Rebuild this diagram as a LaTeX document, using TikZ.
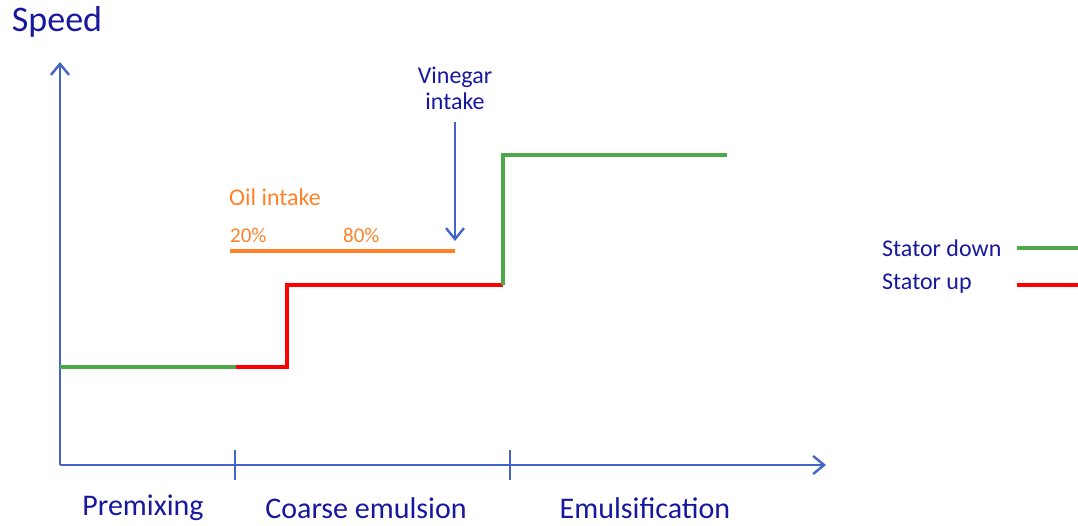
\documentclass[tikz,border=0pt]{standalone}
\usepackage{fontspec}
\setmainfont{Carlito}
\usetikzlibrary{arrows.meta}

\definecolor{txtblue}{RGB}{24,24,158}
\definecolor{axisblue}{RGB}{68,100,200}
\definecolor{statgreen}{RGB}{76,168,72}
\definecolor{statred}{RGB}{255,0,0}
\definecolor{oilorange}{RGB}{255,130,40}

\begin{document}
\begin{tikzpicture}[x=1pt,y=-1pt,>={Straight Barb[length=11pt,width=18pt,line width=2.4pt]},
    axis/.style={draw=axisblue,line width=2.7pt},
    stepline/.style={line width=4pt},
    lbl/.style={text=txtblue,inner sep=0pt}]
    \useasboundingbox (0,0) rectangle (1078,526);

    % axes
    \coordinate (o)  at (60,465);
    \coordinate (yt) at (60,62);
    \coordinate (xt) at (826,465);
    \draw[axis,->] (o) -- (yt);
    \draw[axis,->] (o) -- (xt);
    \draw[axis,line width=2pt] (235,450) -- (235,480);
    \draw[axis,line width=2pt] (510,450) -- (510,480);

    \node[lbl,font=\fontsize{36}{36}\selectfont] (speed) at (57,22) {Speed};
    \node[lbl,font=\fontsize{30}{30}\selectfont] (pre)   at (143,508) {Premixing};
    \node[lbl,font=\fontsize{30}{30}\selectfont] (coa)   at (366,508) {Coarse emulsion};
    \node[lbl,font=\fontsize{30}{30}\selectfont] (emu)   at (645,508) {Emulsification};

    % speed profile
    \coordinate (a0) at (60,367);
    \coordinate (a1) at (236,367);
    \coordinate (a2) at (287,367);
    \coordinate (a3) at (287,285);
    \coordinate (a4) at (503,285);
    \coordinate (a5) at (503,155);
    \coordinate (a6) at (727,155);
    \draw[stepline,statgreen] (a0) -- (a1);
    \draw[stepline,statred] (a1) -- (a2) -- (a3) -- (a4);
    \draw[stepline,statgreen] (a4) -- (a5) -- (a6);

    % oil intake
    \coordinate (oil0) at (230,251);
    \coordinate (oil1) at (455,251);
    \draw[stepline,oilorange] (oil0) -- (oil1);
    \node[lbl,text=oilorange,anchor=west,font=\fontsize{24}{24}\selectfont] (oil) at (229,197) {Oil intake};
    \node[lbl,text=oilorange,anchor=west,font=\fontsize{21}{21}\selectfont] (p20) at (230,235) {20\%};
    \node[lbl,text=oilorange,anchor=west,font=\fontsize{21}{21}\selectfont] (p80) at (343,235) {80\%};

    % vinegar intake
    \node[lbl,font=\fontsize{24}{24}\selectfont,align=center] (vin) at (455,88) {Vinegar\\[2pt]intake};
    \coordinate (vin0) at (455,122);
    \coordinate (vin1) at (455,241);
    \draw[axis,line width=2.7pt,->] (vin0) -- (vin1);

    % legend
    \node[lbl,anchor=west,font=\fontsize{24}{24}\selectfont] (sdown) at (882,248) {Stator down};
    \node[lbl,anchor=west,font=\fontsize{24}{24}\selectfont] (sup)   at (882,284) {Stator up};
    \coordinate (g0) at (1017,248);
    \coordinate (g1) at (1078,248);
    \coordinate (r0) at (1017,285);
    \coordinate (r1) at (1078,285);
    \draw[stepline,statgreen] (g0) -- (g1);
    \draw[stepline,statred] (r0) -- (r1);
\end{tikzpicture}
\end{document}
